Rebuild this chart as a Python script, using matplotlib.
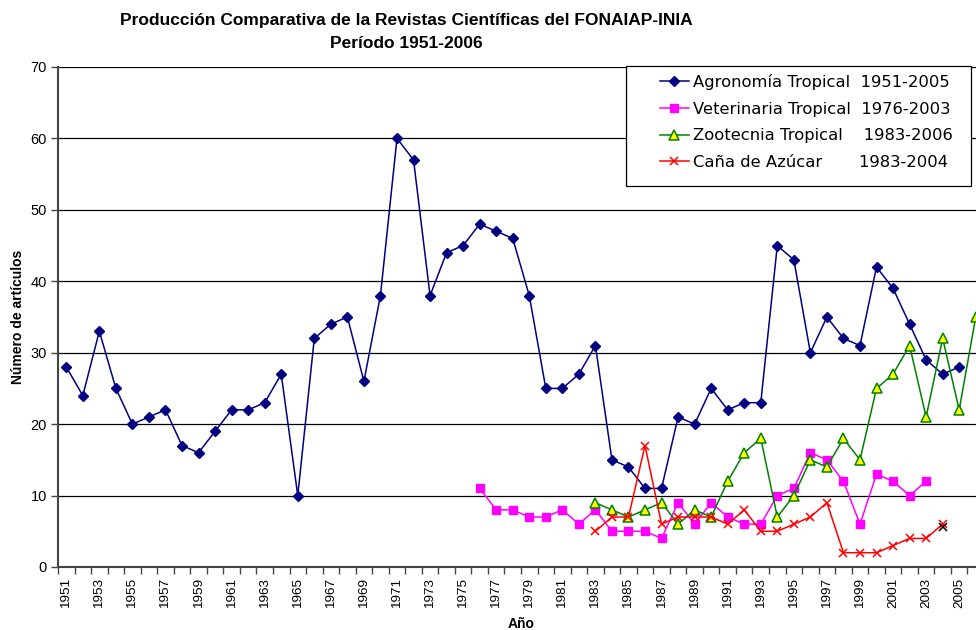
import matplotlib
matplotlib.use("Agg")
import matplotlib.pyplot as plt
from matplotlib import font_manager
from matplotlib.patches import Rectangle
from matplotlib.ticker import FixedLocator, MultipleLocator

# datos
anios_agro = list(range(1951, 2006))
agronomia = [28, 24, 33, 25, 20, 21, 22, 17, 16, 19, 22, 22, 23, 27, 10, 32, 34, 35, 26, 38,
             60, 57, 38, 44, 45, 48, 47, 46, 38, 25, 25, 27, 31, 15, 14, 11, 11, 21, 20, 25,
             22, 23, 23, 45, 43, 30, 35, 32, 31, 42, 39, 34, 29, 27, 28]

anios_vet = list(range(1976, 2004))
veterinaria = [11, 8, 8, 7, 7, 8, 6, 8, 5, 5, 5, 4, 9, 6, 9, 7, 6, 6, 10, 11,
               16, 15, 12, 6, 13, 12, 10, 12]

anios_zoo = list(range(1983, 2007))
zootecnia = [9, 8, 7, 8, 9, 6, 8, 7, 12, 16, 18, 7, 10, 15, 14, 18, 15, 25, 27, 31,
             21, 32, 22, 35]

anios_cana = list(range(1983, 2005))
cana = [5, 7, 7, 17, 6, 7, 7, 7, 6, 8, 5, 5, 6, 7, 9, 2, 2, 2, 3, 4, 4, 6]

# punto suelto marcado en negro
anio_extra = [2004]
valor_extra = [5.6]

etiquetas = ["Agronomía Tropical  1951-2005",
             "Veterinaria Tropical  1976-2003",
             "Zootecnia Tropical    1983-2006",
             "Caña de Azúcar       1983-2004"]

titulo1 = "Producción Comparativa de la Revistas Científicas del FONAIAP-INIA"
titulo2 = "Período 1951-2006"

# el titulo original usa una letra estrecha
nombres = {f.name for f in font_manager.fontManager.ttflist}
if "Liberation Sans Narrow" in nombres:
    fuente_titulo, tam_titulo = "Liberation Sans Narrow", 15
else:
    fuente_titulo, tam_titulo = "Liberation Sans", 12.5

fig = plt.figure(figsize=(9.76, 6.3), dpi=100)
ax = fig.add_axes([58 / 976, 0.1, 926 / 976, 0.8937 - 0.1])

ax.plot(anios_agro, agronomia, color="#000080", lw=1.1, marker="D", ms=5,
        mfc="#000080", mec="#000080", label=etiquetas[0], zorder=3)
ax.plot(anios_vet, veterinaria, color="#FF00FF", lw=1.1, marker="s", ms=5.5,
        mfc="#FF00FF", mec="#FF00FF", label=etiquetas[1], zorder=3)
ax.plot(anios_zoo, zootecnia, color="#008000", lw=1.1, marker="^", ms=6.5,
        mfc="#FFFF00", mec="#008000", mew=1.1, label=etiquetas[2], zorder=3)
ax.plot(anios_cana, cana, color="#FF0000", lw=1.1, marker="x", ms=6,
        mew=1.1, label=etiquetas[3], zorder=3)
ax.plot(anio_extra, valor_extra, ls="none", marker="x", color="black", ms=6, mew=1.1,
        zorder=4)

ax.set_xlim(1950.5, 2006.5)
ax.set_ylim(0, 70)
ax.yaxis.set_major_locator(MultipleLocator(10))
ax.grid(axis="y", color="black", lw=0.9)
ax.set_axisbelow(True)

ax.xaxis.set_major_locator(FixedLocator(list(range(1951, 2006, 2))))
ax.xaxis.set_minor_locator(FixedLocator([a + 0.5 for a in range(1950, 2006)]))
ax.tick_params(axis="x", which="major", length=0, pad=8)
ax.tick_params(axis="x", which="minor", length=5, width=1, color="#444444")
ax.tick_params(axis="y", length=5, width=1, color="#444444", pad=3)
for lab in ax.get_xticklabels():
    lab.set_rotation(90)
    lab.set_family("Liberation Sans")
    lab.set_fontsize(9.7)
for lab in ax.get_yticklabels():
    lab.set_family("Liberation Sans")
    lab.set_fontsize(10.5)

for s in ["top", "right"]:
    ax.spines[s].set_visible(False)
for s in ["left", "bottom"]:
    ax.spines[s].set_color("#444444")
    ax.spines[s].set_linewidth(1.5)

# caja de la leyenda dibujada aparte (el texto no va centrado en ella)
caja = Rectangle((0.6134, 0.762), 0.3726, 0.24, transform=ax.transAxes, facecolor="white",
                 edgecolor="black", lw=0.9, clip_on=False, zorder=5)
ax.add_patch(caja)
leg = ax.legend(loc="upper left", bbox_to_anchor=(0.650, 0.986), fontsize=11.8,
                frameon=False, handlelength=1.75, handletextpad=0.3, labelspacing=0.71,
                borderpad=0, borderaxespad=0)
leg.set_zorder(6)

fig.text(406 / 976, 1 - 25 / 630, titulo1, ha="center", va="baseline", fontsize=tam_titulo,
         fontweight="bold", family=fuente_titulo)
fig.text(406 / 976, 1 - 48 / 630, titulo2, ha="center", va="baseline", fontsize=tam_titulo,
         fontweight="bold", family=fuente_titulo)
fig.text(18 / 976, 1 - 317 / 630, "Número de artículos", rotation=90, ha="center",
         va="center", fontsize=10, fontweight="bold", family="Liberation Sans")
fig.text(521 / 976, 1 - 624 / 630, "Año", ha="center", va="center", fontsize=10,
         fontweight="bold", family="Liberation Sans")

fig.savefig("out.png", dpi=100)
